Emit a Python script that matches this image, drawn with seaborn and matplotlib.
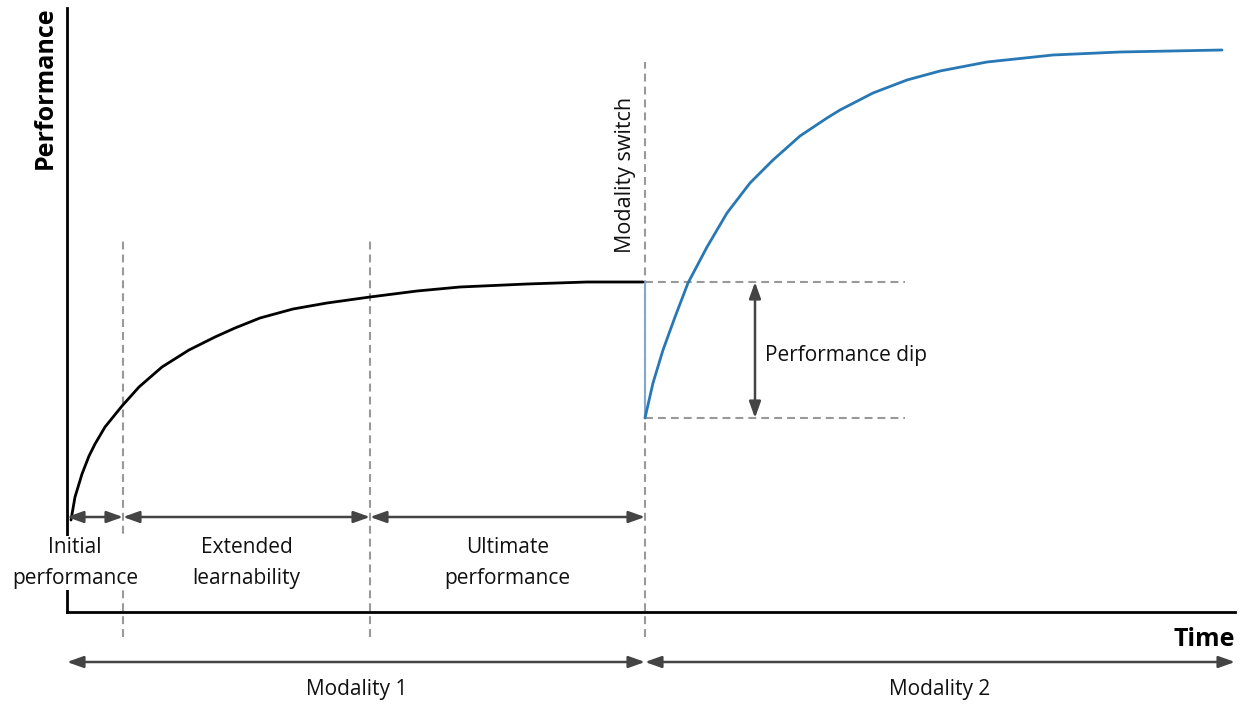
import matplotlib
matplotlib.use("Agg")
import matplotlib.pyplot as plt
import pandas as pd
import seaborn as sns

# Conceptual learning curves (time units from the y axis, performance units above the x axis)
modality1_time = [4, 8, 15, 22, 28, 38, 55, 72, 95, 122, 148, 168, 193, 226, 260, 303, 350, 393, 460, 520, 576]
modality1_perf = [92, 115, 138, 156, 168, 185, 206, 225, 245, 262, 275, 284, 294, 303, 309, 315, 321, 325, 328, 330, 330]

modality2_time = [578, 586, 596, 608, 621, 640, 660, 683, 706, 733, 760, 773, 806, 840, 873, 920, 986, 1053, 1155]
modality2_perf = [194, 229, 262, 295, 329, 365, 399, 429, 452, 476, 494, 502, 519, 532, 541, 550, 557, 560, 562]

# Phase boundaries on the time axis
phase_edges = [0, 56, 303, 578]
phase_labels = ["Initial\nperformance", "Extended\nlearnability", "Ultimate\nperformance"]
time_end = 1168
perf_top = 604
dip_top = 330
dip_bottom = 194

sns.set_theme(style="white")
plt.rcParams["font.family"] = ["Open Sans", "DejaVu Sans"]

fig = plt.figure(figsize=(12.45, 7.04), dpi=100)
ax = fig.add_axes([0, 0, 1, 1])

df1 = pd.DataFrame({"time": modality1_time, "perf": modality1_perf})
df2 = pd.DataFrame({"time": modality2_time, "perf": modality2_perf})
sns.lineplot(data=df1, x="time", y="perf", color="black", lw=2, ax=ax, zorder=4)
sns.lineplot(data=df2, x="time", y="perf", color="#2878b5", lw=2, ax=ax, zorder=4)
# drop at the modality switch
ax.plot([phase_edges[3], phase_edges[3]], [dip_top, dip_bottom], color="#7fa9d1", lw=1.5, zorder=3)

ax.set_xlim(-67, 1178)
ax.set_ylim(-92, 612)
ax.set_xlabel("")
ax.set_ylabel("")
ax.set_xticks([])
ax.set_yticks([])

# axes as spines
for side in ["top", "right"]:
    ax.spines[side].set_visible(False)
ax.spines["left"].set_position(("data", 0))
ax.spines["bottom"].set_position(("data", 0))
ax.spines["left"].set_bounds(0, perf_top)
ax.spines["bottom"].set_bounds(0, time_end)
for side in ["left", "bottom"]:
    ax.spines[side].set_color("black")
    ax.spines[side].set_linewidth(2)

dash = dict(color="#999999", lw=1.5, linestyle=(0, (3.8, 2.4)), zorder=2)
ax.plot([phase_edges[1]] * 2, [-25, 372], **dash)
ax.plot([phase_edges[2]] * 2, [-25, 372], **dash)
ax.plot([phase_edges[3]] * 2, [-25, 550], **dash)
ax.plot([phase_edges[3], 838], [dip_top] * 2, **dash)
ax.plot([phase_edges[3], 838], [dip_bottom] * 2, **dash)

arrow = dict(arrowstyle="<|-|>,head_length=0.7,head_width=0.25", color="#444444", lw=1.8,
             shrinkA=0, shrinkB=0, mutation_scale=14)
for a, b, lab in zip(phase_edges[:-1], phase_edges[1:], phase_labels):
    ax.annotate("", xy=(b, 95), xytext=(a, 95), arrowprops=arrow, zorder=5)
    ax.text((a + b) / 2 if a > 0 else 8, 49, lab, ha="center", va="center", fontsize=15,
            linespacing=1.6, color="#111111", zorder=6,
            bbox=dict(facecolor="white", edgecolor="none", pad=1))

ax.annotate("", xy=(688, dip_bottom), xytext=(688, dip_top), arrowprops=arrow, zorder=5)
ax.text(698, 257, "Performance dip", ha="left", va="center", fontsize=15, color="#111111")

ax.annotate("", xy=(phase_edges[3], -50), xytext=(0, -50), arrowprops=arrow)
ax.annotate("", xy=(time_end, -50), xytext=(phase_edges[3], -50), arrowprops=arrow)
ax.text(290, -78, "Modality 1", ha="center", va="center", fontsize=15, color="#111111")
ax.text(873, -78, "Modality 2", ha="center", va="center", fontsize=15, color="#111111")

ax.text(time_end, -28, "Time", ha="right", va="center", fontsize=18, fontweight="bold", color="black")
ax.text(-22, 606, "Performance", ha="center", va="top", rotation=90, fontsize=18,
        fontweight="bold", color="black")
ax.text(558, 437, "Modality switch", ha="center", va="center", rotation=90, fontsize=15.5,
        color="#111111")

fig.savefig("out.png", dpi=100, facecolor="white")
